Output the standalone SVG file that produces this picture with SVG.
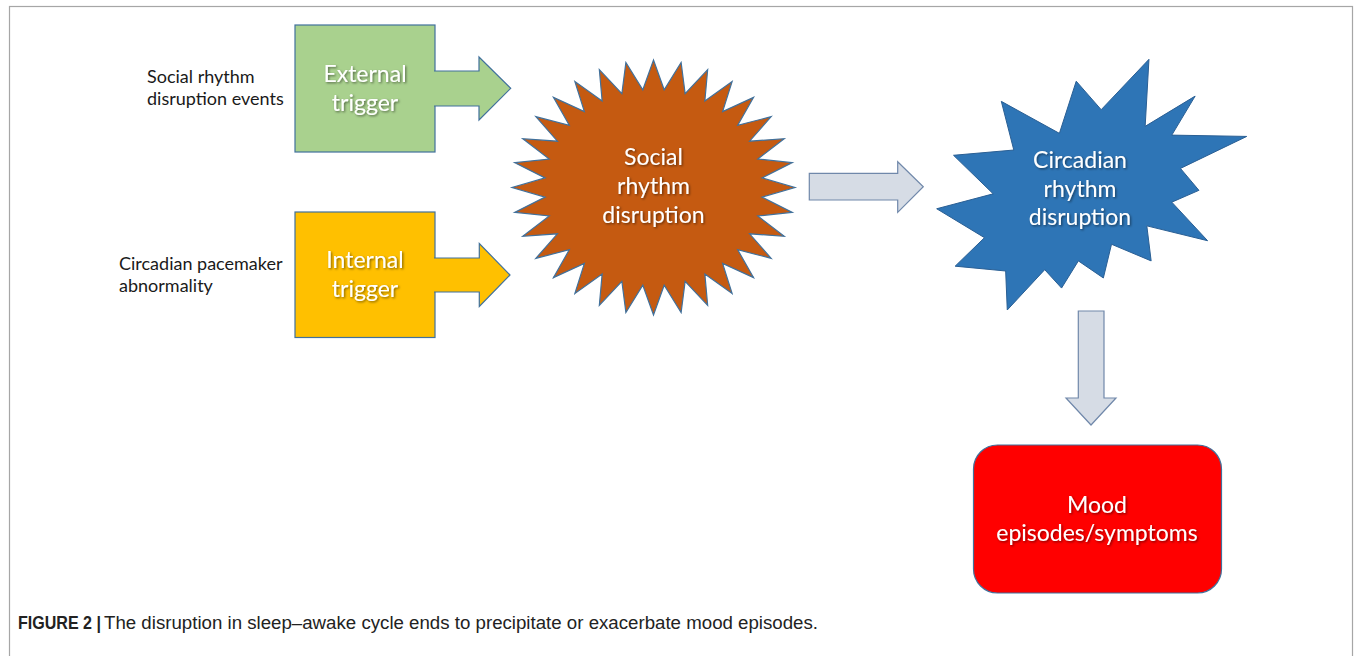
<svg xmlns="http://www.w3.org/2000/svg" width="1357" height="656" viewBox="0 0 1357 656">
<defs>
<style>
.lbl{font-family:Lato,"Open Sans","Liberation Sans",sans-serif;font-size:18px;fill:#1a1a1a}
.in{font-family:Lato,"Open Sans","Liberation Sans",sans-serif;font-size:23px;fill:#ffffff;text-anchor:middle;filter:url(#ts)}
.ol{stroke:#41719c;stroke-width:1.2;stroke-linejoin:miter}
.gray{fill:#d6dce5;stroke:#7088aa;stroke-width:1.2}
.cap{font-family:"Liberation Sans",Arial,sans-serif;font-size:17.5px;fill:#222}
</style>
<filter id="ts" x="-20%" y="-30%" width="140%" height="160%">
<feDropShadow dx="1.2" dy="1.2" stdDeviation="0.8" flood-color="#000" flood-opacity="0.5"/>
</filter>
</defs>
<rect x="0" y="0" width="1357" height="656" fill="#ffffff"/>
<rect x="9.5" y="6.5" width="1343" height="700" fill="none" stroke="#a6a6a6" stroke-width="1.2"/>

<g id="label-social-events">
<text class="lbl" x="147" y="83">Social rhythm</text>
<text class="lbl" x="147" y="104.5">disruption events</text>
</g>
<g id="label-pacemaker">
<text class="lbl" x="119" y="270">Circadian pacemaker</text>
<text class="lbl" x="119" y="292">abnormality</text>
</g>

<g id="external-trigger">
<rect class="ol" x="295" y="25" width="140" height="127" fill="#a9d18e"/>
<text class="in" x="365" y="81.7">External</text>
<text class="in" x="365" y="110.5">trigger</text>
</g>

<g id="internal-trigger">
<rect class="ol" x="295" y="212" width="140" height="125.5" fill="#ffc000"/>
<text class="in" x="365" y="267.7">Internal</text>
<text class="in" x="365" y="296.7">trigger</text>
</g>

<g id="social-rhythm-disruption">
<polygon class="ol" fill="#c55a11" points="653.5,60 664.18,89.79 681.11,62.45 685.13,93.55 707.65,69.71 704.86,100.91 732.11,81.49 722.62,111.61 753.56,97.34 737.73,125.22 771.15,116.67 749.59,141.22 784.23,138.71 757.77,159 792.28,162.63 761.94,177.88 795,187.5 761.94,197.12 792.28,212.37 757.77,216 784.23,236.29 749.59,233.78 771.15,258.33 737.73,249.78 753.56,277.66 722.62,263.39 732.11,293.51 704.86,274.09 707.65,305.29 685.13,281.45 681.11,312.55 664.18,285.21 653.5,315 642.82,285.21 625.89,312.55 621.87,281.45 599.35,305.29 602.14,274.09 574.89,293.51 584.38,263.39 553.44,277.66 569.27,249.78 535.85,258.33 557.41,233.78 522.77,236.29 549.23,216 514.72,212.37 545.06,197.12 512,187.5 545.06,177.88 514.72,162.63 549.23,159 522.77,138.71 557.41,141.22 535.85,116.67 569.27,125.22 553.44,97.34 584.38,111.61 574.89,81.49 602.14,100.91 599.35,69.71 621.87,93.55 625.89,62.45 642.82,89.79"/>
<text class="in" x="653.5" y="165">Social</text>
<text class="in" x="653.5" y="194">rhythm</text>
<text class="in" x="653.5" y="223">disruption</text>
</g>

<g id="circadian-rhythm-disruption">
<path fill="#2e75b6" stroke="#2a5f94" stroke-width="1" vector-effect="non-scaling-stroke" transform="translate(936.7,59.3) scale(0.014352,0.011606)" d="M11462,4342 L14790,0 L14525,5777 L18007,3172 L16380,6532 L21600,6645 L16985,9402 L18270,11290 L16380,12310 L18877,15632 L14640,14350 L14942,17370 L12180,15935 L11612,18842 L9872,17370 L8700,19712 L7527,18125 L4917,21600 L4805,18240 L1285,17825 L3330,15370 L0,12877 L3935,11592 L1172,8270 L5372,7817 L4502,3625 L8550,6382 L9722,1887 Z"/>
<text class="in" x="1080" y="167.7">Circadian</text>
<text class="in" x="1080" y="196.7">rhythm</text>
<text class="in" x="1080" y="225">disruption</text>
</g>

<g id="mood-episodes">
<rect x="973.5" y="445" width="248" height="148" rx="24" ry="24" fill="#ff0000" stroke="#41719c" stroke-width="1.2"/>
<text class="in" x="1097" y="512.7">Mood</text>
<text class="in" x="1097" y="540.7">episodes/symptoms</text>
</g>

<g id="connectors">
<path class="ol" fill="#a9d18e" d="M434,71 H479 V57 L510.7,88.3 L479,120 V106 H434"/>
<path class="ol" fill="#ffc000" d="M434,258 H479.3 V243.5 L510,275 L479.3,306.5 V292 H434"/>
<path class="gray" d="M809.3,173.3 H897.7 V161.7 L923.3,186.7 L897.7,212.3 V200 H809.3 Z"/>
<path class="gray" d="M1078.3,311 H1104 V398 H1116 L1091,425 L1066,398 H1078.3 Z"/>
</g>

<g id="caption">
<text class="cap" x="18" y="628.7" font-weight="bold" textLength="83" lengthAdjust="spacingAndGlyphs">FIGURE 2 |</text>
<text class="cap" x="104" y="628.7" textLength="714" lengthAdjust="spacingAndGlyphs">The disruption in sleep–awake cycle ends to precipitate or exacerbate mood episodes.</text>
</g>
</svg>
